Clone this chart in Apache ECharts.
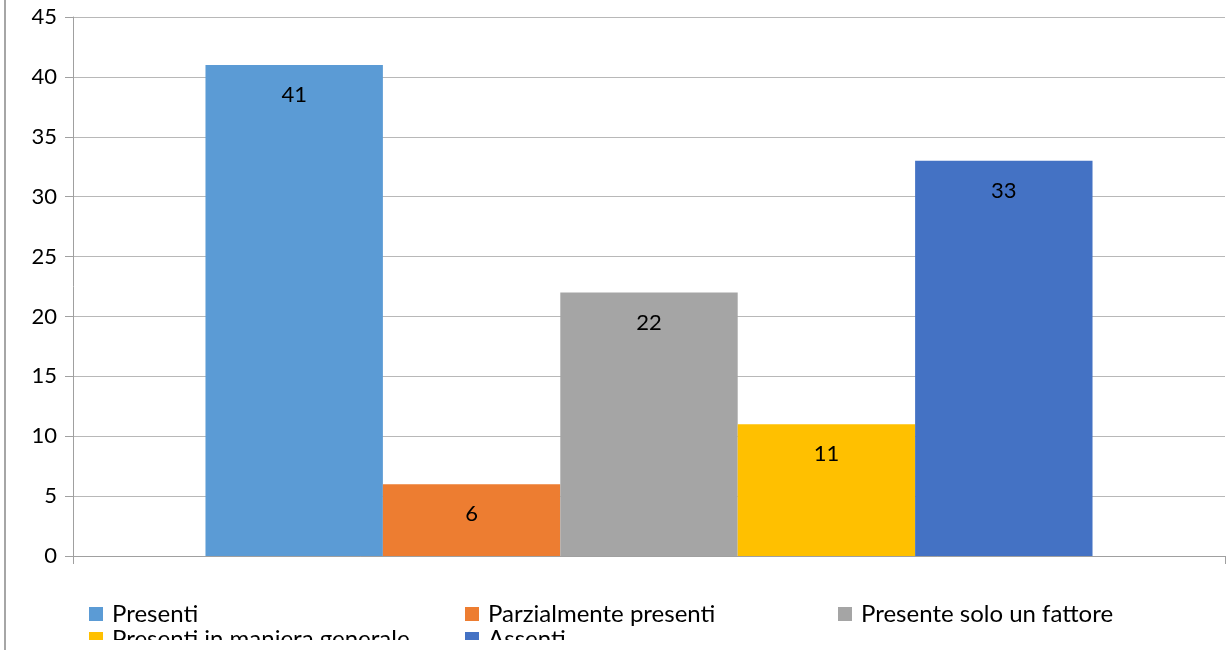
<!DOCTYPE html>
<html>
<head>
<meta charset="utf-8">
<script src="https://cdn.jsdelivr.net/npm/echarts@6/dist/echarts.min.js"></script>
<style>
  html, body { margin: 0; padding: 0; background: #ffffff; }
  #wrap { position: relative; width: 1226px; height: 650px; overflow: hidden; }
  #frame { position: absolute; left: 4px; top: 0; width: 2px; height: 650px; background: #a6a6a6; }
  #chart { position: absolute; left: 0; top: 0; width: 1226px; height: 640px; }
</style>
</head>
<body>
<div id="wrap">
  <div id="frame"></div>
  <div id="chart"></div>
</div>
<script>
// Categories (one per bar) and their counts
const seriesNames = ['Presenti', 'Parzialmente presenti', 'Presente solo un fattore', 'Presenti in maniera generale', 'Assenti'];
const seriesValues = [41, 6, 22, 11, 33];
const seriesColors = ['#5B9BD5', '#ED7D31', '#A5A5A5', '#FFC000', '#4472C4'];
const yMin = 0, yMax = 45, yStep = 5;

const FONT = 'Lato, "Noto Sans", sans-serif';

const chart = echarts.init(document.getElementById('chart'), null, { renderer: 'canvas' });

// legend laid out as a 3-column grid, wrapping to a second row
const legendSlots = [
  { left: 89, top: 602 },
  { left: 465, top: 602 },
  { left: 838, top: 602 },
  { left: 89, top: 627 },
  { left: 465, top: 627 }
];

const legends = seriesNames.map((name, i) => ({
  data: [name],
  left: legendSlots[i].left,
  top: legendSlots[i].top,
  padding: 0,
  itemWidth: 14,
  itemHeight: 14,
  icon: 'rect',
  selectedMode: false,
  textStyle: { fontFamily: FONT, fontSize: 24, color: '#000', padding: [0, 0, 0, 4], lineHeight: 14 }
}));

const series = seriesNames.map((name, i) => ({
  name: name,
  type: 'bar',
  data: [seriesValues[i]],
  barGap: '0%',
  barCategoryGap: '23%',
  itemStyle: { color: seriesColors[i] },
  label: {
    show: true,
    position: 'insideTop',
    distance: 19,
    color: '#000',
    fontFamily: FONT,
    fontSize: 22
  },
  emphasis: { disabled: true }
}));

chart.setOption({
  animation: false,
  backgroundColor: 'transparent',
  grid: { left: 73, right: 1, top: 17, bottom: 84, containLabel: false },
  legend: legends,
  xAxis: {
    type: 'category',
    data: [''],
    axisLine: { show: true, lineStyle: { color: '#a0a0a0', width: 1 } },
    axisTick: { show: true, length: 8, lineStyle: { color: '#a0a0a0' } },
    axisLabel: { show: false },
    splitLine: { show: false }
  },
  yAxis: {
    type: 'value',
    min: yMin,
    max: yMax,
    interval: yStep,
    axisLine: { show: true, lineStyle: { color: '#a0a0a0', width: 1 } },
    axisTick: { show: true, length: 8, lineStyle: { color: '#a0a0a0' } },
    axisLabel: { color: '#000', fontFamily: FONT, fontSize: 22, margin: 16 },
    splitLine: { show: true, lineStyle: { color: '#b8b8b8', width: 1 } }
  },
  series: series
});
</script>
</body>
</html>
